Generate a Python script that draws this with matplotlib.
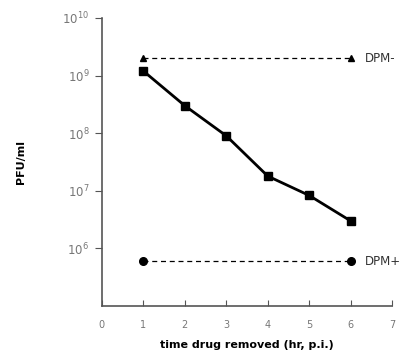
import matplotlib
matplotlib.use("Agg")
import matplotlib.pyplot as plt
import numpy as np

# data
hours = [1, 2, 3, 4, 5, 6]
pfu_timecourse = [1.2e9, 3.0e8, 9.0e7, 1.8e7, 8.3e6, 3.0e6]
dpm_minus = [2.0e9, 2.0e9]
dpm_plus = [6.0e5, 6.0e5]
ctrl_hours = [1, 6]

fig = plt.figure(figsize=(4.19, 3.58), dpi=100)
ax = fig.add_axes([0.243, 0.145, 0.693, 0.805])

gray = "#555555"
ax.plot(ctrl_hours, dpm_minus, color="black", lw=0.9, ls=(0, (4, 3)),
        marker="^", ms=5, clip_on=False)
ax.plot(ctrl_hours, dpm_plus, color="black", lw=0.9, ls=(0, (4, 3)),
        marker="o", ms=5.5, clip_on=False)
ax.plot(hours, pfu_timecourse, color="black", lw=2, marker="s", ms=5.5)

ax.text(6.35, dpm_minus[-1], "DPM-", va="center", ha="left", fontsize=8.5, color="#333333")
ax.text(6.35, dpm_plus[-1], "DPM+", va="center", ha="left", fontsize=8.5, color="#333333")

ax.set_yscale("log")
ax.set_ylim(1e5, 1e10)
ax.set_xlim(0, 7)
ax.set_yticks([1e6, 1e7, 1e8, 1e9, 1e10])
ax.set_yticklabels([r"$10^{6}$", r"$10^{7}$", r"$10^{8}$", r"$10^{9}$", r"$10^{10}$"])
ax.minorticks_off()
ax.set_xticks(range(0, 8))

for s in ["top", "right"]:
    ax.spines[s].set_visible(False)
for s in ["left", "bottom"]:
    ax.spines[s].set_color(gray)
    ax.spines[s].set_linewidth(1.2)

ax.tick_params(axis="x", direction="in", length=4, color=gray, labelsize=7,
               labelcolor="#777777", pad=10)
ax.tick_params(axis="y", direction="out", length=5, color=gray, labelsize=8.5,
               labelcolor="#777777", pad=4)

ax.set_xlabel("time drug removed (hr, p.i.)", fontsize=8, fontweight="bold", labelpad=7)
ax.set_ylabel("PFU/ml", fontsize=8, fontweight="bold", labelpad=26)

fig.savefig("out.png", dpi=100)
